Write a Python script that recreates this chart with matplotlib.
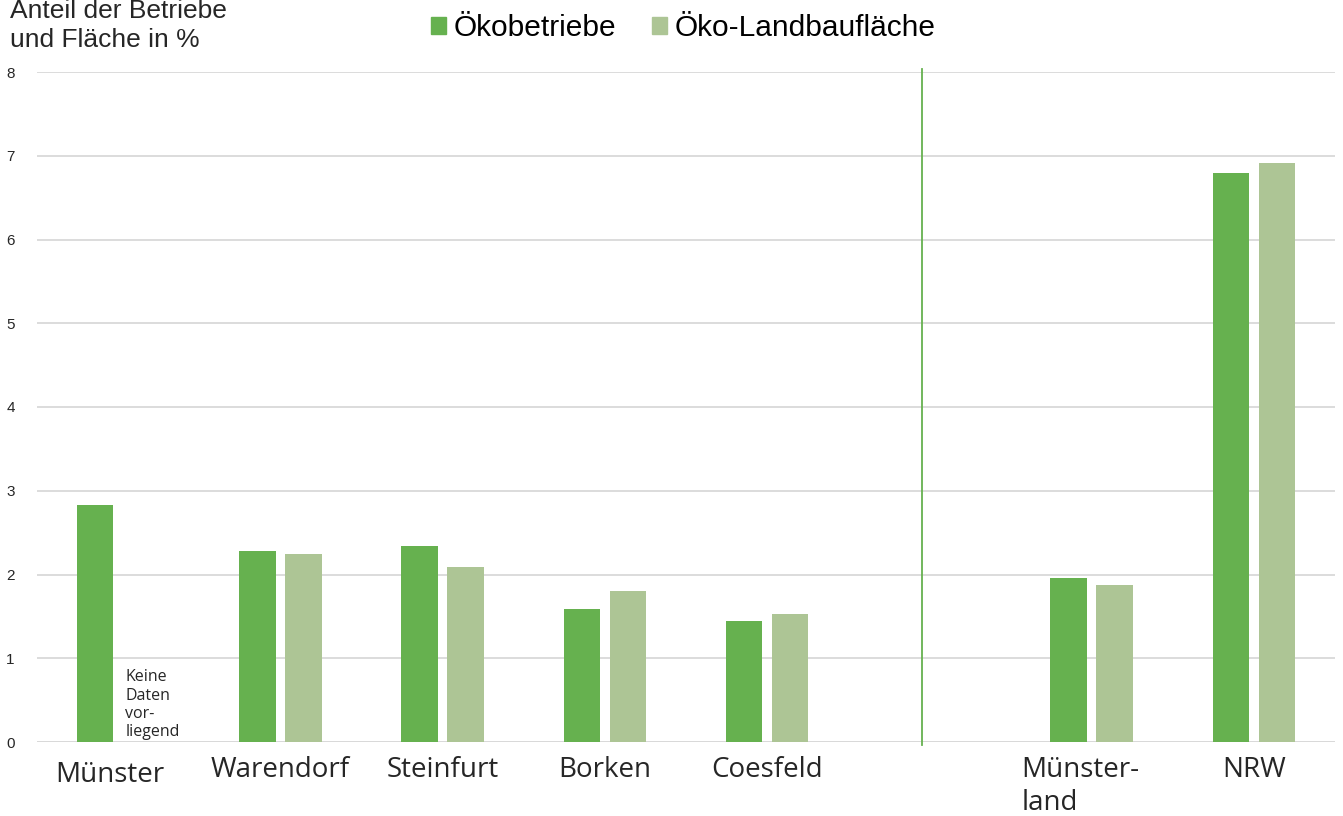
import numpy as np
import matplotlib.pyplot as plt
import matplotlib.transforms as mtransforms
from matplotlib.patches import Patch

# Daten
regionen = ["Münster", "Warendorf", "Steinfurt", "Borken", "Coesfeld", "",
            "Münster-\nland", "NRW"]
oekobetriebe = [2.83, 2.28, 2.34, 1.59, 1.44, np.nan, 1.96, 6.79]
oekoflaeche = [np.nan, 2.24, 2.09, 1.80, 1.53, np.nan, 1.87, 6.91]

c_dunkel = "#66b14f"
c_hell = "#adc595"

plt.rcParams['font.family'] = ['Liberation Sans', 'DejaVu Sans']

fig = plt.figure(figsize=(13.43, 8.16), dpi=100)
ax = fig.add_axes([37 / 1343, 74 / 816, 1298 / 1343, 670 / 816])

x = np.arange(len(regionen))
w = 0.225
ax.bar(x - 0.1425, oekobetriebe, w, color=c_dunkel, zorder=2)
ax.bar(x + 0.1425, oekoflaeche, w, color=c_hell, zorder=2)

# Trennlinie zwischen Kreisen und Regionen
ax.plot([4.955, 4.955], [-0.04, 8.03], color=c_dunkel, lw=1.3,
        clip_on=False, zorder=3)

ax.text(0.045, 0.02, "Keine\nDaten\nvor-\nliegend", fontsize=11.5,
        family='Open Sans', color="#262626", ha='left', va='bottom',
        linespacing=1.2)

ax.set_xlim(-0.5, 7.5)
ax.set_ylim(0, 8)
ax.set_yticks(range(0, 9))
ax.yaxis.grid(True, color="#d9d9d9", lw=1.3, zorder=0)
ax.set_axisbelow(True)
for s in ax.spines.values():
    s.set_visible(False)
ax.axhline(0, color="#d9d9d9", lw=1.3, zorder=1)

ax.set_xticks(x)
ax.set_xticklabels(regionen, fontsize=20, family='Open Sans',
                   color="#262626", linespacing=1.25)
ax.tick_params(axis='both', length=0)
ax.tick_params(axis='x', pad=10)
ax.tick_params(axis='y', labelsize=11, labelcolor="#262626", pad=16)

# einzelne Beschriftungen leicht verschieben wie im Original
labels = ax.get_xticklabels()
labels[0].set_transform(labels[0].get_transform() +
                        mtransforms.ScaledTranslation(-8 / 100, -5 / 100,
                                                      fig.dpi_scale_trans))
labels[6].set_multialignment('left')
labels[6].set_transform(labels[6].get_transform() +
                        mtransforms.ScaledTranslation(-11 / 100, 0,
                                                      fig.dpi_scale_trans))

fig.text(10 / 1343, 1 - 52 / 816, "Anteil der Betriebe\nund Fläche in %",
         fontsize=19, color="#262626", ha='left', va='bottom',
         linespacing=1.25)

handles = [Patch(color=c_dunkel, label="Ökobetriebe"),
           Patch(color=c_hell, label="Öko-Landbaufläche")]
fig.legend(handles=handles, loc='upper center', ncol=2, frameon=False,
           bbox_to_anchor=(0.509, 1.016), fontsize=21.5, handlelength=0.5,
           handleheight=0.5, handletextpad=0.25, columnspacing=1.2)

fig.savefig("out.png", dpi=100)
